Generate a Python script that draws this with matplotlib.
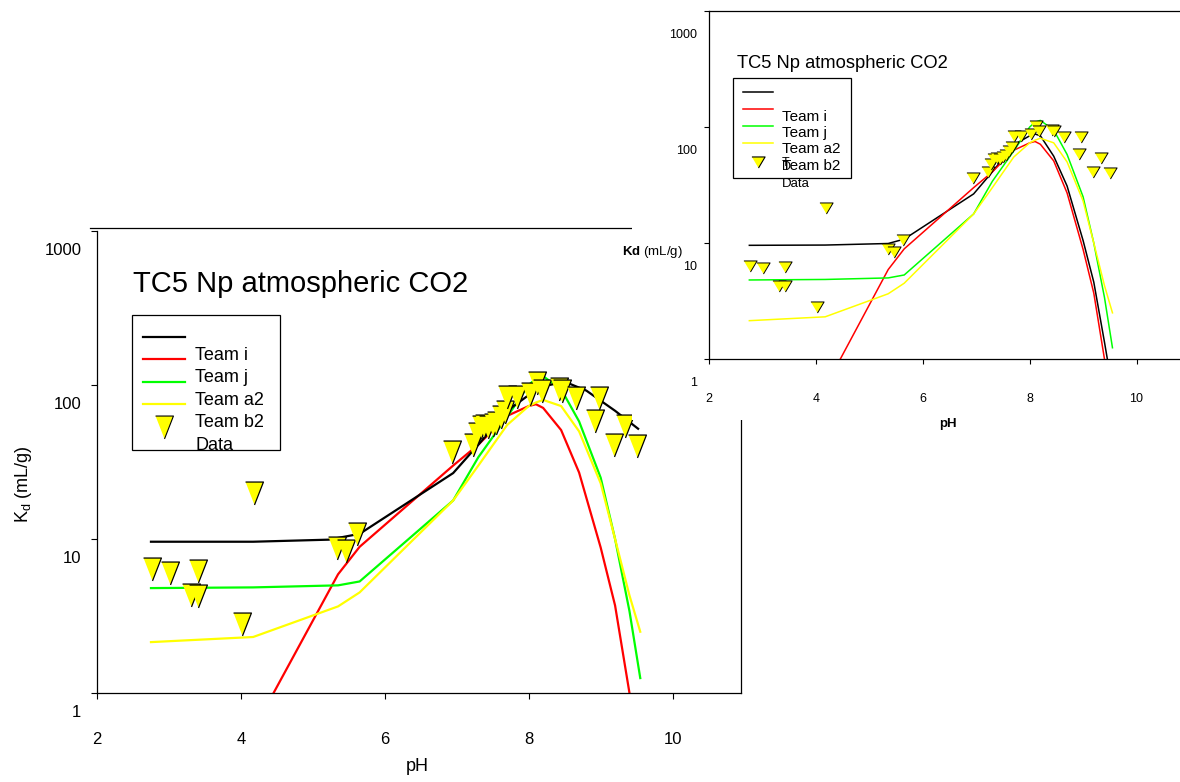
import matplotlib
matplotlib.use("Agg")
import matplotlib.pyplot as plt
import matplotlib.transforms as mtransforms
from matplotlib.patches import Rectangle
from matplotlib.lines import Line2D
from matplotlib.ticker import NullLocator

plt.rcParams['font.family'] = ['Liberation Sans', 'DejaVu Sans']
plt.rcParams['mathtext.fontset'] = 'custom'
plt.rcParams['mathtext.rm'] = 'Liberation Sans'
plt.rcParams['mathtext.bf'] = 'Liberation Sans:bold'

# --- model curves, Kd (mL/g) vs pH ---
ph_model = [2.75, 4.17, 5.35, 5.65, 6.95, 7.3, 7.7, 8.0, 8.1, 8.2, 8.45, 8.7, 9.0, 9.2, 9.4, 9.55]
kd_team_i = [0.03, 0.57, 5.9, 8.9, 30, 41, 63, 73, 75, 71, 51, 27, 8.8, 3.7, 1.0, 0.4]
kd_team_j = [4.8, 4.85, 5.0, 5.3, 17.8, 34, 62, 100, 110, 114, 94, 58, 25, 10, 3.4, 1.25]
kd_team_a2 = [2.14, 2.31, 3.65, 4.5, 17.8, 30, 55, 73, 77, 80, 73, 50, 23, 10, 4.3, 2.5]
kd_black_small = [9.55, 9.6, 9.9, 10.8, 26.5, 41, 70, 84, 87, 84, 56, 31, 10.5, 4.6, 1.4, 0.55]

# unlabelled black curve of the main plot
ph_black_main = [2.75, 4.17, 5.22, 5.65, 6.95, 7.3, 7.7, 8.0, 8.2, 8.5, 8.8, 9.2, 9.52]
kd_black_main = [9.6, 9.6, 9.9, 10.8, 26.8, 41, 68, 86, 98, 105, 92, 68, 52]

# measured data (Team b2 / Data)
ph_data = [2.77, 3.01, 3.41, 3.31, 3.41, 4.02, 4.18, 5.34, 5.46, 5.62, 6.93,
           7.22, 7.28, 7.33, 7.38, 7.44, 7.50, 7.55, 7.62, 7.67, 7.70, 7.84,
           8.02, 8.11, 8.18, 8.42, 8.46, 8.65, 8.92, 8.97, 9.18, 9.34, 9.51]
kd_data = [6.35, 6.05, 6.2, 4.3, 4.25, 2.8, 19.9, 8.8, 8.3, 10.7, 36.5,
           41, 48, 53, 54, 53, 55, 57, 62, 67, 83, 83,
           87, 103, 92, 94, 92, 82, 58, 82, 41, 54.5, 40]

x_ticks = [2, 4, 6, 8, 10]
y_ticks = [1, 10, 100, 1000]
y_tick_labels = ['1', '10', '100', '1000']
legend_labels = ['Team i', 'Team j', 'Team a2', 'Team b2']
title = 'TC5 Np atmospheric CO2'

line_colors = ['black', '#ff0000', '#00ff00', '#ffff00']
W, H = 1180, 782

fig = plt.figure(figsize=(11.8, 7.82), dpi=100)


def box(x0, y0, x1, y1):
    return [x0 / W, 1 - y1 / H, (x1 - x0) / W, (y1 - y0) / H]


def setup_axes(ax, xmax, ticklen, fs, xpad, ypad, ydrop):
    ax.set_yscale('log')
    ax.set_xlim(2, xmax)
    ax.set_ylim(1, 1000)
    ax.set_xticks(x_ticks)
    ax.set_yticks(y_ticks)
    ax.set_yticklabels(y_tick_labels)
    ax.yaxis.set_minor_locator(NullLocator())
    ax.tick_params(direction='out', length=ticklen, width=0.8, labelsize=fs)
    ax.tick_params(axis='x', pad=xpad)
    ax.tick_params(axis='y', pad=ypad)
    shift = mtransforms.ScaledTranslation(0, -ydrop / 100, fig.dpi_scale_trans)
    for lab in ax.get_yticklabels():
        lab.set_transform(lab.get_transform() + shift)
    for sp in ax.spines.values():
        sp.set_linewidth(0.9)


def draw_key(ax, frame, line_x, line_ys, mark_xy, text_x, text_ys, fs, lw, mk, ms):
    ax.add_patch(Rectangle((frame[0], frame[1]), frame[2] - frame[0], frame[3] - frame[1],
                           transform=ax.transAxes, facecolor='white', edgecolor='black',
                           lw=0.9, zorder=5))
    for c, y in zip(line_colors, line_ys):
        ax.plot(line_x, [y, y], transform=ax.transAxes, color=c, lw=lw, zorder=6)
    ax.plot([mark_xy[0]], [mark_xy[1]], transform=ax.transAxes, linestyle='none',
            marker=mk, ms=ms, mfc='#ffff00', mec='black', mew=0.8, zorder=6)
    for t, y in zip(legend_labels, text_ys):
        ax.text(text_x, y, t, transform=ax.transAxes, fontsize=fs, va='baseline', zorder=7)


tall_v = [(-0.39, 0.5), (0.39, 0.5), (0, -0.5)]
wide_v = [(-0.5, 0.42), (0.5, 0.42), (0, -0.42)]

# ---------------- main plot ----------------
ax = fig.add_axes(box(97, 231, 741, 693), zorder=1)
ax.spines['top'].set_visible(False)
for kd, c in zip([kd_team_i, kd_team_j, kd_team_a2], line_colors[1:]):
    ax.plot(ph_model, kd, color=c, lw=1.6, zorder=2)
ax.plot(ph_black_main, kd_black_main, color='black', lw=1.6, zorder=2)
ax.plot(ph_data, kd_data, linestyle='none', marker=tall_v, ms=16.5, mfc='#ffff00',
        mec='black', mew=0.9, zorder=3)
setup_axes(ax, 10.95, 4.3, 12, 24, 7, 18)
ax.set_xlabel('pH', fontsize=13)
ax.xaxis.set_label_coords(0.498, -0.141)
ax.set_ylabel(r'$\mathregular{K_d}$ (mL/g)', fontsize=13)
ax.yaxis.set_label_coords(-0.098, 0.452)
ax.text(0.0559, 0.8686, title, transform=ax.transAxes, fontsize=21, va='baseline')
draw_key(ax, (0.0543, 0.526, 0.2842, 0.818), [0.0714, 0.1366],
         [0.7706, 0.7229, 0.6732, 0.6255], (0.1045, 0.5758), 0.1522,
         [0.7208, 0.6721, 0.6234, 0.5747], 13, 1.6, tall_v, 16.5)
ax.text(0.1522, 0.526, 'Data', transform=ax.transAxes, fontsize=13, va='baseline', zorder=7)

fig.add_artist(Line2D([90 / W, 632 / W], [1 - 227.5 / H] * 2, color='black', lw=0.9,
                      transform=fig.transFigure, zorder=1))
fig.add_artist(Rectangle((632 / W, 1 - 420 / H), (W - 632) / W, 420 / H,
                         transform=fig.transFigure, facecolor='white', edgecolor='none',
                         zorder=2))

# ---------------- inset plot ----------------
ins = fig.add_axes(box(709.3, 11, 1189.9, 359), zorder=3)
for kd, c in zip([kd_black_small, kd_team_i, kd_team_j, kd_team_a2], line_colors):
    ins.plot(ph_model, kd, color=c, lw=1.1, zorder=2)
ins.plot(ph_data, kd_data, linestyle='none', marker=wide_v, ms=9.5, mfc='#ffff00',
         mec='black', mew=0.7, zorder=3)
setup_axes(ins, 11, 3.6, 9, 21, 5, 22.4)
ins.set_xlabel('pH', fontsize=9.5, fontweight='bold')
ins.xaxis.set_label_coords(0.4967, -0.1695)
ins.set_ylabel(r'$\mathbf{Kd}$ (mL/g)', fontsize=9.5, rotation=0, ha='right', va='center')
ins.yaxis.set_label_coords(-0.0547, 0.3075)
ins.text(0.0576, 0.837, title, transform=ins.transAxes, fontsize=13.2, va='baseline')
draw_key(ins, (0.0493, 0.521, 0.2942, 0.8075), [0.0701, 0.1325],
         [0.767, 0.7175, 0.6695, 0.6216], (0.1013, 0.567), 0.1506,
         [0.6848, 0.6379, 0.5911, 0.544], 11, 1.1, wide_v, 9.5)
ins.text(0.151, 0.5546, 'T', transform=ins.transAxes, fontsize=9, va='baseline', zorder=7)
ins.text(0.151, 0.5431, 'D', transform=ins.transAxes, fontsize=9, va='baseline', zorder=7)
ins.text(0.1506, 0.4951, 'Data', transform=ins.transAxes, fontsize=9.5, va='baseline', zorder=7)

fig.savefig('out.png', dpi=100)
